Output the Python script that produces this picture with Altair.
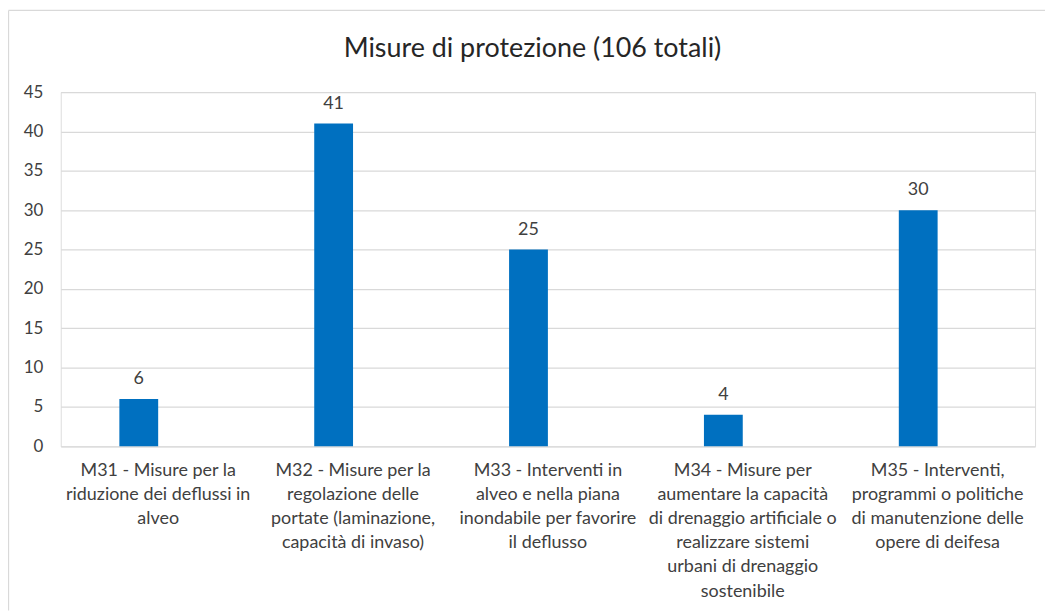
import altair as alt
import pandas as pd

title_text = "Misure di protezione (106 totali)"

categories = [
    "M31 - Misure per la|riduzione dei deflussi in|alveo",
    "M32 - Misure per la|regolazione delle|portate (laminazione,|capacità di invaso)",
    "M33 - Interventi in|alveo e nella piana|inondabile per favorire|il deflusso",
    "M34 - Misure per|aumentare la capacità|di drenaggio artificiale o|realizzare sistemi|urbani di drenaggio|sostenibile",
    "M35 - Interventi,|programmi o politiche|di manutenzione delle|opere di deifesa",
]
values = [6, 41, 25, 4, 30]
y_ticks = [0, 5, 10, 15, 20, 25, 30, 35, 40, 45]

df = pd.DataFrame({"categoria": categories, "valore": values})

FONT = "Lato"
TXT = "#404040"
GRID = "#d9d9d9"
BLUE = "#0070C0"

W, H = 979, 356
PAD = {"left": 53, "top": 83, "right": 10, "bottom": 165}

base = alt.Chart(df)

x_enc = alt.X(
    "categoria:N",
    sort=categories,
    title=None,
    scale=alt.Scale(paddingInner=0, paddingOuter=0),
    axis=alt.Axis(
        labelExpr="split(datum.value, '|')",
        labelAngle=0,
        labelLimit=0,
        labelOverlap=False,
        labelBound=False,
        labelFont=FONT,
        labelFontSize=18,
        labelColor=TXT,
        labelLineHeight=24.3,
        labelPadding=15,
        ticks=False,
        domain=False,
        grid=False,
    ),
)
y_enc = alt.Y(
    "valore:Q",
    title=None,
    scale=alt.Scale(domain=[0, 45], nice=False),
    axis=alt.Axis(
        values=y_ticks,
        labelFont=FONT,
        labelFontSize=17,
        labelColor=TXT,
        labelPadding=18,
        labelOverlap=False,
        ticks=False,
        domain=False,
        grid=True,
        gridColor=GRID,
        gridWidth=1.3,
    ),
)

bars = base.mark_bar(color=BLUE, size=39, xOffset=-19.5).encode(x=x_enc, y=y_enc)

labels = base.mark_text(
    font=FONT, fontSize=18, color=TXT, baseline="alphabetic", xOffset=-19.5, dy=-15
).encode(x=x_enc, y=y_enc, text="valore:Q")

one_df = pd.DataFrame({"titolo": [title_text]})
title_mark = alt.Chart(one_df).mark_text(
    font=FONT, fontSize=27, color="#262626", baseline="alphabetic", align="center"
).encode(x=alt.value(474), y=alt.value(-35), text="titolo:N")

border_left = alt.Chart(one_df).mark_rule(color=GRID, strokeWidth=1.3).encode(
    x=alt.value(-52.5), y=alt.value(-82), y2=alt.value(H + PAD["bottom"])
)
border_top = alt.Chart(one_df).mark_rule(color=GRID, strokeWidth=1.3).encode(
    x=alt.value(-52.5), x2=alt.value(W + PAD["right"]), y=alt.value(-82)
)

chart = (
    alt.layer(bars, labels, title_mark, border_left, border_top)
    .properties(
        width=W,
        height=H,
        padding=PAD,
        autosize=alt.AutoSizeParams(type="none"),
    )
    .configure_view(strokeWidth=0, stroke="transparent")
    .configure(background="white")
)

chart.save("out.html", embed_options={"renderer": "svg", "actions": False})
